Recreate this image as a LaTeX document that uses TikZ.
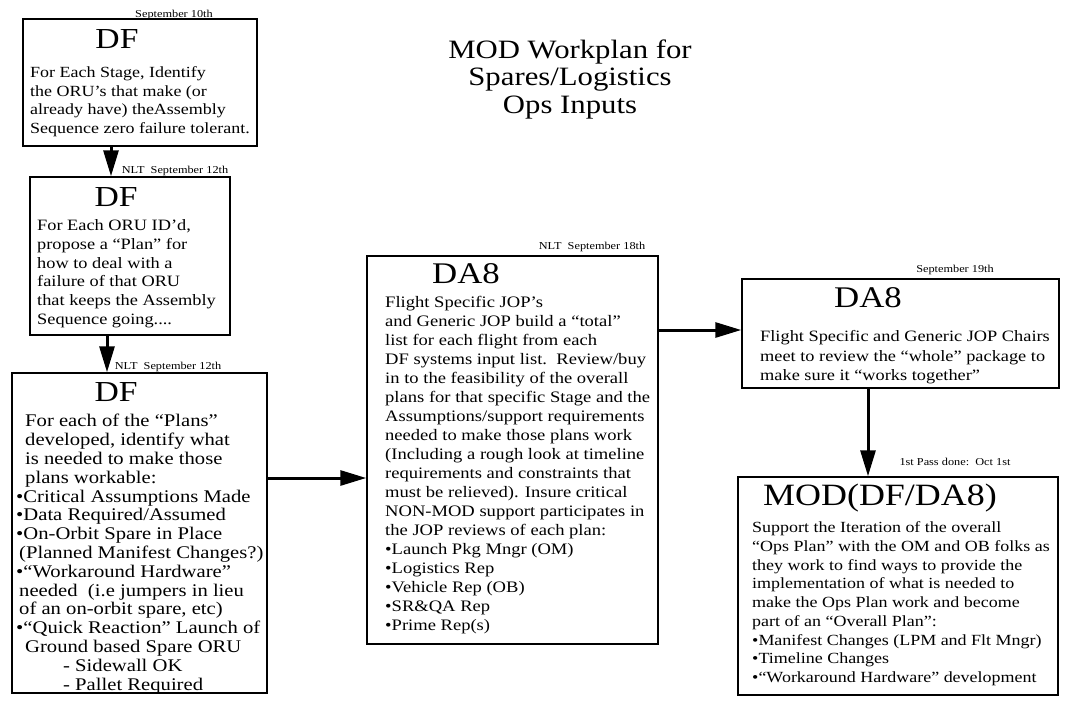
\documentclass[tikz,border=0pt]{standalone}
\usepackage{fontspec}
\setmainfont{Liberation Serif}[FakeStretch=1.16]
\usetikzlibrary{arrows.meta}
\begin{document}
\begin{tikzpicture}[x=1pt,y=-1pt,
  box/.style={draw, line width=1.5pt, rectangle, inner sep=0pt},
  arr/.style={line width=3pt, -{Triangle[length=26pt,width=15pt]}},
  hd/.style={anchor=base, inner sep=0pt, font=\fontsize{29}{30}\selectfont},
  dt/.style={anchor=base, inner sep=0pt, font=\fontsize{10.6}{12}\selectfont},
  bt/.style={anchor=base west, align=left, inner sep=0pt},
  ttl/.style={anchor=base, align=center, inner sep=0pt, font=\fontsize{26.5}{27.5}\selectfont}]
\fill[white] (0,0) rectangle (1092,704);
\useasboundingbox (0,0) rectangle (1092,704);

% title (anchor = baseline of last line)
\node[ttl] (title) at (570,113) {MOD Workplan for\\Spares/Logistics\\Ops Inputs};

% boxes
\node[box, minimum width=234pt, minimum height=127pt] (b1) at (140,82.5) {};
\node[box, minimum width=200pt, minimum height=158pt] (b2) at (130,256) {};
\node[box, minimum width=255pt, minimum height=320pt] (b3) at (139.5,533) {};
\node[box, minimum width=291pt, minimum height=388pt] (b4) at (512.5,450) {};
\node[box, minimum width=317pt, minimum height=109pt] (b5) at (900.5,333.5) {};
\node[box, minimum width=320pt, minimum height=218pt] (b6) at (898,586) {};

% date labels
\node[dt] (d1) at (174,17) {September 10th};
\node[dt] (d2) at (175,173) {NLT~~September 12th};
\node[dt] (d3) at (168,369) {NLT~~September 12th};
\node[dt] (d4) at (592,249) {NLT~~September 18th};
\node[dt] (d5) at (955,272) {September 19th};
\node[dt] (d6) at (955,465) {1st Pass done:~~Oct 1st};

% headings
\node[hd] (h1) at (117,48.5) {DF};
\node[hd] (h2) at (116,206.5) {DF};
\node[hd] (h3) at (116,401.5) {DF};
\node[hd, font=\fontsize{30}{31}\selectfont] (h4) at (466,283) {DA8};
\node[hd, font=\fontsize{30}{31}\selectfont] (h5) at (868,307) {DA8};
\node[hd, font=\fontsize{31}{32}\selectfont] (h6) at (880,505) {MOD(DF/DA8)};

% body texts (anchor = baseline of last line)
\node[bt, font=\fontsize{15.5}{18.5}\selectfont] (t1) at (30,133) {For Each Stage, Identify\\the ORU’s that make (or\\already have) theAssembly\\Sequence zero failure tolerant.};

\node[bt, font=\fontsize{15.8}{18.8}\selectfont] (t2) at (37,324.5) {For Each ORU ID’d,\\propose a “Plan” for\\how to deal with a\\failure of that ORU\\that keeps the Assembly\\Sequence going....};

\node[bt, font=\fontsize{17.8}{18.8}\selectfont] (t3) at (16,690) {\hspace*{9pt}For each of the “Plans”\\\hspace*{9pt}developed, identify what\\\hspace*{9pt}is needed to make those\\\hspace*{9pt}plans workable:\\•Critical Assumptions Made\\•Data Required/Assumed\\•On-Orbit Spare in Place\\\hspace*{3pt}(Planned Manifest Changes?)\\•“Workaround Hardware”\\\hspace*{3pt}needed\ \ (i.e jumpers in lieu\\\hspace*{3pt}of an on-orbit spare, etc)\\•“Quick Reaction” Launch of\\\hspace*{9pt}Ground based Spare ORU\\\hspace*{47pt}- Sidewall OK\\\hspace*{47pt}- Pallet Required};

\node[bt, font=\fontsize{16}{19}\selectfont] (t4) at (385,630.6) {Flight Specific JOP’s\\and Generic JOP build a “total”\\list for each flight from each\\DF systems input list.\ \ Review/buy\\in to the feasibility of the overall\\plans for that specific Stage and the\\Assumptions/support requirements\\needed to make those plans work\\(Including a rough look at timeline\\requirements and constraints that\\must be relieved). Insure critical\\NON-MOD support participates in\\the JOP reviews of each plan:\\•Launch Pkg Mngr (OM)\\•Logistics Rep\\•Vehicle Rep (OB)\\•SR\&QA Rep\\•Prime Rep(s)};

\node[bt, font=\fontsize{15.8}{19.5}\selectfont] (t5) at (760,380.5) {Flight Specific and Generic JOP Chairs\\meet to review the “whole” package to\\make sure it “works together”};

\node[bt, font=\fontsize{15.5}{18.75}\selectfont] (t6) at (752,682.5) {Support the Iteration of the overall\\“Ops Plan” with the OM and OB folks as\\they work to find ways to provide the\\implementation of what is needed to\\make the Ops Plan work and become\\part of an “Overall Plan”:\\•Manifest Changes (LPM and Flt Mngr)\\•Timeline Changes\\•“Workaround Hardware” development};

% connector guide coordinates
\coordinate (x12) at (111,0);
\coordinate (x23) at (107,0);
\coordinate (y34) at (0,478);
\coordinate (y45) at (0,330);
\coordinate (x56) at (868,0);

% connectors
\draw[arr] (b1.south -| x12) -- (b2.north -| x12);
\draw[arr] (b2.south -| x23) -- (b3.north -| x23);
\draw[arr] (b3.east |- y34) -- (b4.west |- y34);
\draw[arr] (b4.east |- y45) -- (b5.west |- y45);
\draw[arr] (b5.south -| x56) -- (b6.north -| x56);
\end{tikzpicture}
\end{document}
